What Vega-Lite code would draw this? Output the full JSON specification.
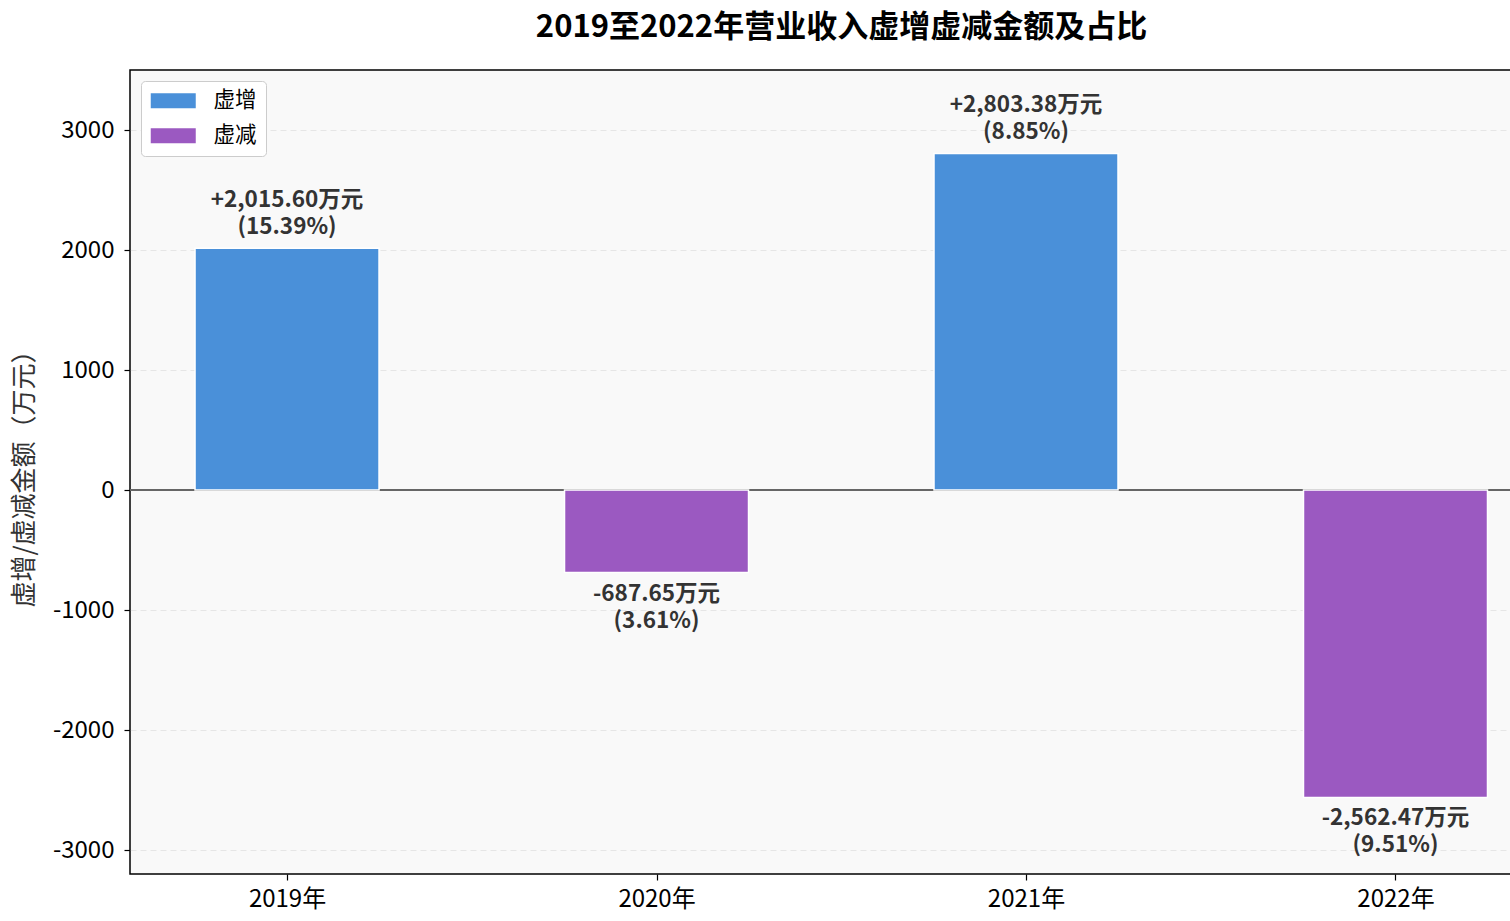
{
  "$schema": "https://vega.github.io/schema/vega-lite/v6.json",
  "autosize": "none",
  "width": 1381,
  "height": 804,
  "padding": {"left": 130, "top": 70, "right": 0, "bottom": 47},
  "background": "white",
  "title": {
    "text": "2019至2022年营业收入虚增虚减金额及占比",
    "font": "Noto Sans CJK SC",
    "fontSize": 31,
    "fontWeight": "bold",
    "color": "#000000",
    "anchor": "middle",
    "dx": 21,
    "offset": 26
  },
  "config": {
    "font": "Noto Sans CJK SC",
    "view": {"fill": "#f9f9f9", "stroke": "#000000", "strokeWidth": 1.5},
    "axis": {
      "labelFont": "Noto Sans CJK SC",
      "labelFontSize": 24,
      "labelColor": "#000000",
      "tickColor": "#000000",
      "tickSize": 6,
      "tickWidth": 1.2,
      "domain": false
    }
  },
  "data": {
    "values": [
      {"year": 2019, "amount": 2015.60, "type": "虚增", "label": ["+2,015.60万元", "(15.39%)"]},
      {"year": 2020, "amount": -687.65, "type": "虚减", "label": ["-687.65万元", "(3.61%)"]},
      {"year": 2021, "amount": 2803.38, "type": "虚增", "label": ["+2,803.38万元", "(8.85%)"]},
      {"year": 2022, "amount": -2562.47, "type": "虚减", "label": ["-2,562.47万元", "(9.51%)"]}
    ]
  },
  "encoding": {
    "x": {
      "field": "year",
      "type": "quantitative",
      "scale": {"domain": [2018.575, 2022.3126], "nice": false, "zero": false, "padding": 0},
      "axis": {
        "values": [2019, 2020, 2021, 2022],
        "labelExpr": "datum.value + '年'",
        "grid": false,
        "title": null,
        "labelPadding": 7
      }
    },
    "y": {
      "field": "amount",
      "type": "quantitative",
      "scale": {"domain": [-3200, 3500], "nice": false},
      "axis": {
        "values": [-3000, -2000, -1000, 0, 1000, 2000, 3000],
        "labelExpr": "'' + datum.value",
        "grid": true,
        "gridColor": "#e6e6e6",
        "gridDash": [6, 4],
        "gridWidth": 1,
        "title": "虚增/虚减金额（万元）",
        "titleFontSize": 26,
        "titleFontWeight": "normal",
        "titleColor": "#333333",
        "titlePadding": 15,
        "labelPadding": 10
      }
    }
  },
  "layer": [
    {
      "mark": {"type": "rule", "color": "#666666", "strokeWidth": 1.5},
      "encoding": {"y": {"datum": 0}, "x": {"value": 0}, "x2": {"value": 1381}}
    },
    {
      "mark": {"type": "bar", "width": 184, "stroke": "white", "strokeWidth": 1.5},
      "encoding": {
        "y2": {"datum": 0},
        "color": {
          "field": "type",
          "type": "nominal",
          "scale": {"domain": ["虚增", "虚减"], "range": ["#4a90d9", "#9b59c1"]},
          "legend": {
            "title": null,
            "orient": "none",
            "legendX": 11,
            "legendY": 11,
            "fillColor": "white",
            "strokeColor": "#cccccc",
            "cornerRadius": 4,
            "padding": 9,
            "symbolType": "M-1,-0.75H3.5V0.75H-1Z",
            "symbolSize": 400,
            "symbolStrokeWidth": 0,
            "symbolOpacity": 1,
            "labelFontSize": 21.5,
            "labelColor": "#000000",
            "labelOffset": 42,
            "rowPadding": 12
          }
        }
      }
    },
    {
      "transform": [{"filter": "datum.amount >= 0"}],
      "mark": {"type": "text", "baseline": "bottom", "dy": -36.5, "fontSize": 22.5, "fontWeight": "bold", "color": "#333333", "lineHeight": 27},
      "encoding": {"text": {"field": "label"}}
    },
    {
      "transform": [{"filter": "datum.amount < 0"}],
      "mark": {"type": "text", "baseline": "top", "dy": 10, "fontSize": 22.5, "fontWeight": "bold", "color": "#333333", "lineHeight": 27},
      "encoding": {"y": {"field": "amount", "type": "quantitative"}, "text": {"field": "label"}}
    }
  ]
}
